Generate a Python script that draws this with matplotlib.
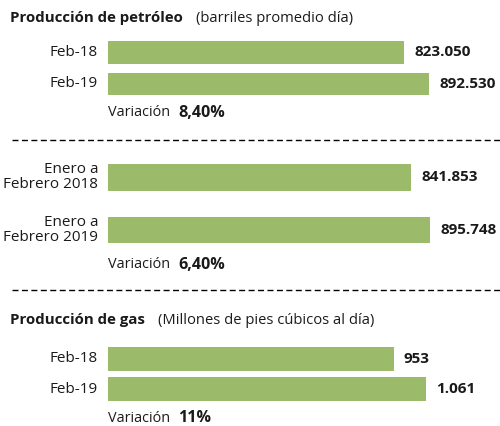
import matplotlib
matplotlib.use("Agg")
import matplotlib.pyplot as plt
from matplotlib.lines import Line2D

plt.rcParams['font.family'] = ['Open Sans', 'DejaVu Sans']
plt.rcParams['lines.scale_dashes'] = False

# data
oil_labels = ["Feb-18", "Feb-19"]
oil_values = [823050, 892530]
oil_text = ["823.050", "892.530"]
oil_var = "8,40%"

ytd_labels = ["Enero a\nFebrero 2018", "Enero a\nFebrero 2019"]
ytd_values = [841853, 895748]
ytd_text = ["841.853", "895.748"]
ytd_var = "6,40%"

gas_labels = ["Feb-18", "Feb-19"]
gas_values = [953, 1061]
gas_text = ["953", "1.061"]
gas_var = "11%"

W, H = 500, 426
GREEN = "#9bbb6b"
DARK = "#1a1a1a"

fig = plt.figure(figsize=(W / 100, H / 100), dpi=100)
fig.patch.set_facecolor("white")
# background axes in pixel units for the loose texts
bg = fig.add_axes([0, 0, 1, 1])
bg.set_xlim(0, W)
bg.set_ylim(H, 0)
bg.axis("off")


def px_axes(top, bottom, xmax):
    # axes from x=108px to the right edge, top/bottom given in px
    ax = fig.add_axes([108 / W, 1 - bottom / H, 1 - 108 / W, (bottom - top) / H])
    ax.set_xlim(0, xmax)
    ax.axis("off")
    return ax


def panel(ax, labels, values, texts, h, pad=10):
    ax.barh(range(len(values)), values, height=h, color=GREEN)
    ax.set_ylim(len(values) - 1 + h / 2, -h / 2)
    for i, (lab, v, t) in enumerate(zip(labels, values, texts)):
        ax.annotate(lab, xy=(0, i), xytext=(-10, 0), textcoords="offset pixels",
                    ha="right", va="center", fontsize=11, color=DARK,
                    linespacing=1.0, annotation_clip=False)
        ax.annotate(t, xy=(v, i), xytext=(pad, 0), textcoords="offset pixels",
                    ha="left", va="center", fontsize=11, fontweight="bold",
                    color=DARK, annotation_clip=False)


def variation(y_px, var):
    t = bg.text(108, y_px, "Variación", fontsize=10.4, color=DARK,
                ha="left", va="center")
    bg.annotate(var, xy=(1, 0.5), xycoords=t, xytext=(8, 0),
                textcoords="offset pixels", ha="left", va="center",
                fontsize=11.6, fontweight="bold", color=DARK)


def title(y_px, bold, rest):
    t = bg.text(10, y_px, bold, fontsize=10.8, fontweight="bold",
                color=DARK, ha="left", va="center")
    bg.annotate(rest, xy=(1, 0.5), xycoords=t, xytext=(13, 0),
                textcoords="offset pixels", ha="left", va="center",
                fontsize=10.6, color=DARK)


def dashed(y_px):
    bg.add_line(Line2D([12, W], [y_px, y_px], color="black",
                       lw=1.0, dashes=(4.3, 2.5)))


# panel 1
title(18, "Producción de petróleo", "(barriles promedio día)")
ax1 = px_axes(41, 95, 392 / 3.6e-4)
panel(ax1, oil_labels, oil_values, oil_text, 22.5 / 31.5)
variation(113, oil_var)
dashed(140)

# panel 2
ax2 = px_axes(164, 243, 392 / 3.6e-4)
panel(ax2, ytd_labels, ytd_values, ytd_text, 26.5 / 52.5)
variation(265, ytd_var)
dashed(289.5)

# panel 3
title(320, "Producción de gas", "(Millones de pies cúbicos al día)")
ax3 = px_axes(347, 401, 392 / 0.3)
panel(ax3, gas_labels, gas_values, gas_text, 24 / 30.5)
variation(418, gas_var)

fig.savefig("out.png", dpi=100, facecolor="white")
